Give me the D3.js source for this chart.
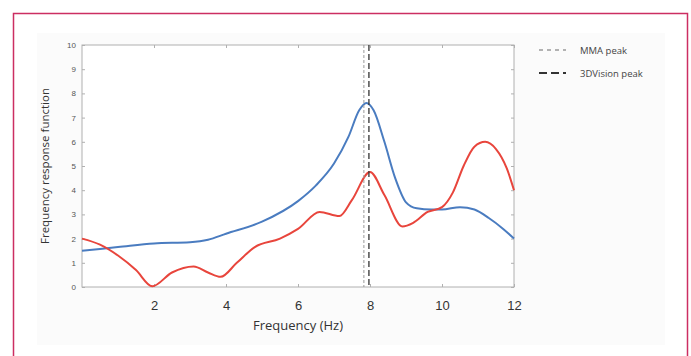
<!DOCTYPE html>
<html>
<head>
<meta charset="utf-8">
<script src="https://cdn.jsdelivr.net/npm/d3@7"></script>
<style>
  body { margin: 0; background: #fff; }
  svg { display: block; font-family: "Open Sans", "DejaVu Sans", sans-serif; }
  .frame { fill: none; stroke: #b0b0b0; stroke-width: 1; }
  .tick line { stroke: #b0b0b0; }
  .domain { display: none; }
</style>
</head>
<body>
<div id="chart"></div>
<script>
// blue curve
var blueData = [[0,1.5],[1,1.65],[2,1.8],[3,1.85],[3.5,1.95],[4,2.2],[5,2.7],[6,3.55],[6.5,4.2],
    [7,5.1],[7.4,6.2],[7.7,7.3],[7.9,7.6],[8.1,7.3],[8.4,6.0],[8.7,4.5],[9.0,3.5],[9.3,3.25],
    [9.7,3.2],[10,3.2],[10.5,3.3],[10.9,3.2],[11.3,2.85],[11.7,2.4],[12,2.0]];
// red curve
var redData = [[0,2.0],[0.5,1.75],[1,1.3],[1.5,0.7],[1.95,0.03],[2.5,0.6],[3.1,0.85],[3.5,0.6],
    [3.85,0.42],[4.3,1.0],[4.8,1.65],[5.5,2.0],[6,2.4],[6.6,3.1],[7.15,2.93],[7.5,3.6],[8.0,4.75],
    [8.4,3.8],[8.9,2.5],[9.2,2.65],[9.6,3.1],[10.0,3.3],[10.3,3.9],[10.6,5.0],[10.9,5.8],
    [11.2,6.0],[11.5,5.7],[11.8,4.9],[12,4.0]];
var peaks = [{ name: "MMA peak", x: 7.83 }, { name: "3DVision peak", x: 7.97 }];
var xTicks = [2, 4, 6, 8, 10, 12];
var yTicks = [0, 1, 2, 3, 4, 5, 6, 7, 8, 9, 10];

var width = 691, height = 356;
var plot = { left: 82, right: 514, top: 45, bottom: 287 };

var svg = d3.select("#chart").append("svg")
    .attr("width", width)
    .attr("height", height);

// outer pink border and faint panel
svg.append("rect")
    .attr("x", 37).attr("y", 33).attr("width", 628).attr("height", 312)
    .attr("fill", "#fbfbfb");
svg.append("rect")
    .attr("x", 13.5).attr("y", 13.5).attr("width", 674).attr("height", 360)
    .attr("fill", "none").attr("stroke", "#cc2e62").attr("stroke-width", 1.5);

var x = d3.scaleLinear().domain([0, 12]).range([plot.left, plot.right]);
var y = d3.scaleLinear().domain([0, 10]).range([plot.bottom, plot.top]);

svg.append("rect")
    .attr("x", plot.left).attr("y", plot.top)
    .attr("width", plot.right - plot.left).attr("height", plot.bottom - plot.top)
    .attr("fill", "#fff");

// axes with inward ticks
var xAxis = svg.append("g")
    .attr("transform", "translate(0," + plot.bottom + ")")
    .call(d3.axisBottom(x).tickValues(xTicks).tickSizeInner(-3).tickSizeOuter(0).tickPadding(14));
xAxis.selectAll("text").attr("font-size", 13).attr("fill", "#333");

svg.append("g")
    .attr("transform", "translate(0," + plot.top + ")")
    .call(d3.axisTop(x).tickValues(xTicks).tickSizeInner(-3).tickSizeOuter(0).tickFormat(""));

var yAxis = svg.append("g")
    .attr("transform", "translate(" + plot.left + ",0)")
    .call(d3.axisLeft(y).tickValues(yTicks).tickSizeInner(-3).tickSizeOuter(0).tickPadding(6));
yAxis.selectAll("text").attr("font-size", 8).attr("fill", "#555");

svg.append("g")
    .attr("transform", "translate(" + plot.right + ",0)")
    .call(d3.axisRight(y).tickValues(yTicks).tickSizeInner(-3).tickSizeOuter(0).tickFormat(""));

svg.append("rect").attr("class", "frame")
    .attr("x", plot.left).attr("y", plot.top)
    .attr("width", plot.right - plot.left).attr("height", plot.bottom - plot.top);

// curves
var line = d3.line()
    .x(function (d) { return x(d[0]); })
    .y(function (d) { return y(d[1]); })
    .curve(d3.curveMonotoneX);

svg.append("path").datum(blueData)
    .attr("d", line).attr("fill", "none")
    .attr("stroke", "#4a7cc0").attr("stroke-width", 2);
svg.append("path").datum(redData)
    .attr("d", line).attr("fill", "none")
    .attr("stroke", "#e8453c").attr("stroke-width", 2);

// peak markers
var peakStyle = [{ stroke: "#9a9a9a", dash: "3,2", w: 1 }, { stroke: "#333", dash: "6,3", w: 1.3 }];
svg.selectAll(".peak")
    .data(peaks)
    .enter()
    .append("line")
    .attr("class", "peak")
    .attr("x1", function (d) { return x(d.x); })
    .attr("x2", function (d) { return x(d.x); })
    .attr("y1", plot.top)
    .attr("y2", plot.bottom)
    .attr("stroke", function (d, i) { return peakStyle[i].stroke; })
    .attr("stroke-width", function (d, i) { return peakStyle[i].w; })
    .attr("stroke-dasharray", function (d, i) { return peakStyle[i].dash; });

// legend
var legend = svg.selectAll(".legend")
    .data(peaks)
    .enter()
    .append("g")
    .attr("class", "legend")
    .attr("transform", function (d, i) { return "translate(539," + (50 + i * 23) + ")"; });
legend.append("line")
    .attr("x1", 0).attr("x2", 27).attr("y1", 0).attr("y2", 0)
    .attr("stroke", function (d, i) { return peakStyle[i].stroke; })
    .attr("stroke-width", function (d, i) { return i ? 2 : 1.3; })
    .attr("stroke-dasharray", function (d, i) { return i ? "8,4" : "4,4"; });
legend.append("text")
    .attr("x", 41).attr("y", 3.5)
    .attr("font-size", 9.5).attr("fill", "#444")
    .text(function (d) { return d.name; });

// axis titles
svg.append("text")
    .attr("x", (plot.left + plot.right) / 2).attr("y", 330)
    .attr("text-anchor", "middle").attr("font-size", 13).attr("fill", "#333")
    .text("Frequency (Hz)");
svg.append("text")
    .attr("transform", "translate(49," + ((plot.top + plot.bottom) / 2) + ") rotate(-90)")
    .attr("text-anchor", "middle").attr("font-size", 11.5).attr("fill", "#333")
    .text("Frequency response function");
</script>
</body>
</html>
